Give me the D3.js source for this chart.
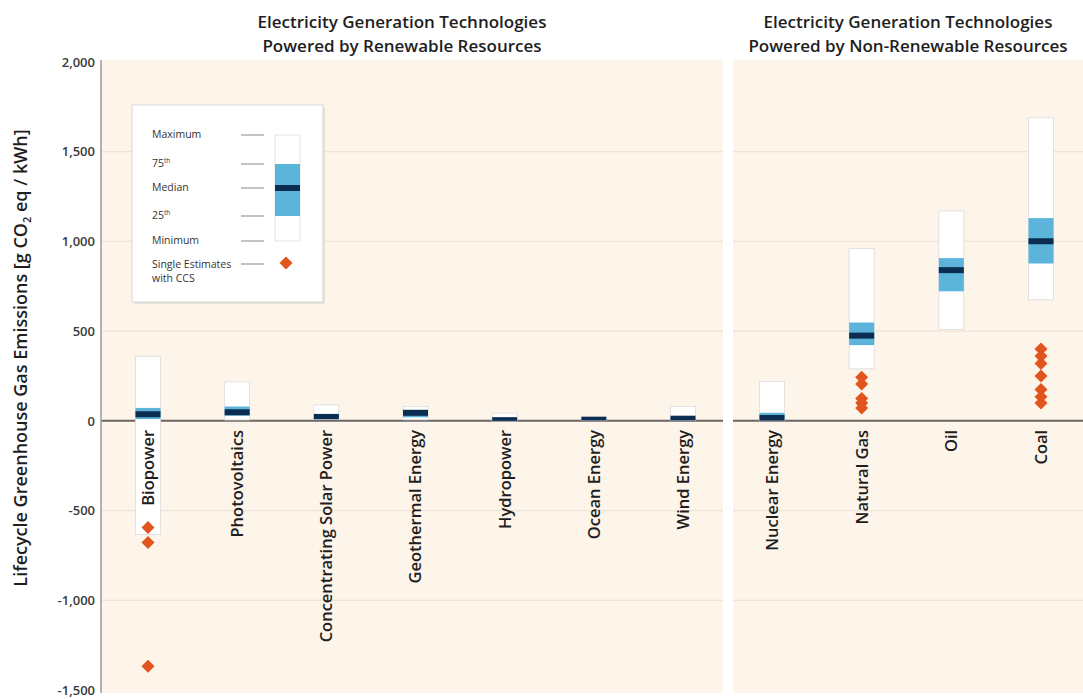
<!DOCTYPE html>
<html>
<head>
<meta charset="utf-8">
<script src="https://cdn.jsdelivr.net/npm/d3@7"></script>
<style>
  html, body { margin: 0; padding: 0; background: #ffffff; }
  svg { display: block; }
  text { font-family: "Open Sans", "Noto Sans", sans-serif; }
</style>
</head>
<body>
<svg id="chart" width="1083" height="699"></svg>
<script>
// ---------- DATA ----------
const renewableCategories = ["Biopower", "Photovoltaics", "Concentrating Solar Power", "Geothermal Energy", "Hydropower", "Ocean Energy", "Wind Energy"];
const nonRenewableCategories = ["Nuclear Energy", "Natural Gas", "Oil", "Coal"];

// order: renewable categories then non-renewable categories
const minimumValues = [-633, 5, 9, 6, 0, 2, 2, 1, 290, 510, 675];
const p25Values     = [10, 29, 14, 20, 3, 6, 8, 8, 422, 722, 877];
const medianValues  = [37, 48, 22, 45, 4, 8, 12, 16, 475, 840, 1001];
const p75Values     = [72, 80, 32, 57, 7, 9, 20, 45, 548, 907, 1130];
const maximumValues = [360, 217, 89, 79, 43, 23, 81, 220, 960, 1170, 1689];

// single estimates with CCS
const ccsBiopower   = [-594, -678, -1368];
const ccsNaturalGas = [243, 205, 125, 100, 72];
const ccsCoal       = [400, 362, 320, 250, 175, 135, 100];

const yTickValues = [-1500, -1000, -500, 0, 500, 1000, 1500, 2000];
const gridValues  = [-1000, -500, 500, 1000, 1500];

const titleRenewable = ["Electricity Generation Technologies", "Powered by Renewable Resources"];
const titleNonRenewable = ["Electricity Generation Technologies", "Powered by Non-Renewable Resources"];
const legendLabels = ["Maximum", "75th", "Median", "25th", "Minimum"];

// ---------- BUILD ----------
const allCategories = renewableCategories.concat(nonRenewableCategories);
const rows = allCategories.map((c, i) => ({
  cat: c,
  min: minimumValues[i], q1: p25Values[i], med: medianValues[i], q3: p75Values[i], max: maximumValues[i]
}));
const ccs = []
  .concat(ccsBiopower.map(v => ({cat: "Biopower", v})))
  .concat(ccsNaturalGas.map(v => ({cat: "Natural Gas", v})))
  .concat(ccsCoal.map(v => ({cat: "Coal", v})));

const svg = d3.select("#chart");

const leftPanel = {x0: 101, x1: 723};
const rightPanel = {x0: 733, x1: 1083};

const y = d3.scaleLinear().domain([-1500, 2000]).range([690, 62]);
const xR = d3.scalePoint().domain(renewableCategories).range([148, 683]);
const xN = d3.scalePoint().domain(nonRenewableCategories).range([772, 1041]);
const xOf = c => renewableCategories.includes(c) ? xR(c) : xN(c);

const panelTop = y(2000) - 2;
const panelBottom = y(-1500) + 3;

const COLORS = {
  bg: "#fdf4ea",
  grid: "#efe4d6",
  zero: "#6b6663",
  box: "#ffffff",
  boxStroke: "#dcdcdc",
  iqr: "#5cb4da",
  median: "#0c2d52",
  ccs: "#e2541d",
  text: "#1e1e1e"
};

// panels
[leftPanel, rightPanel].forEach(p => {
  svg.append("rect")
    .attr("x", p.x0).attr("y", panelTop)
    .attr("width", p.x1 - p.x0).attr("height", panelBottom - panelTop)
    .attr("fill", COLORS.bg);
});

// gridlines
[leftPanel, rightPanel].forEach(p => {
  svg.append("g").selectAll("line").data(gridValues).join("line")
    .attr("x1", p.x0).attr("x2", p.x1)
    .attr("y1", d => y(d)).attr("y2", d => y(d))
    .attr("stroke", COLORS.grid).attr("stroke-width", 1.2);
});

// zero line (behind the boxes)
[leftPanel, rightPanel].forEach(p => {
  svg.append("line")
    .attr("x1", p.x0).attr("x2", p.x1)
    .attr("y1", y(0)).attr("y2", y(0))
    .attr("stroke", COLORS.zero).attr("stroke-width", 2);
});

// left axis line
svg.append("line")
  .attr("x1", leftPanel.x0).attr("x2", leftPanel.x0)
  .attr("y1", panelTop).attr("y2", panelBottom)
  .attr("stroke", "#9a9a9a").attr("stroke-width", 1.5);

// y axis labels
const loc = d3.formatLocale({decimal: ".", thousands: ",", grouping: [3], currency: ["", ""], minus: "-"});
const fmt = loc.format(",");
const yAxis = d3.axisLeft(y).tickValues(yTickValues).tickSize(0).tickPadding(6).tickFormat(fmt);
const gy = svg.append("g").attr("transform", `translate(${leftPanel.x0},0)`).call(yAxis);
gy.select(".domain").remove();
gy.selectAll("text")
  .attr("font-size", 13).attr("font-weight", 600).attr("fill", "#3a3a3a")
  .attr("font-family", "'Open Sans', sans-serif");

// y axis title
const yt = svg.append("text")
  .attr("transform", `translate(27,${358}) rotate(-90)`)
  .attr("text-anchor", "middle")
  .attr("font-size", 18).attr("font-weight", 600).attr("fill", COLORS.text);
yt.append("tspan").text("Lifecycle Greenhouse Gas Emissions [g CO");
yt.append("tspan").attr("font-size", 11).attr("dy", 4).text("2");
yt.append("tspan").attr("dy", -4).text(" eq / kWh]");

// boxes (white range)
const BW = 25;
const boxes = svg.append("g");
boxes.selectAll("rect.range").data(rows).join("rect")
  .attr("class", "range")
  .attr("x", d => xOf(d.cat) - BW / 2).attr("width", BW)
  .attr("y", d => y(d.max)).attr("height", d => y(d.min) - y(d.max))
  .attr("fill", COLORS.box).attr("stroke", COLORS.boxStroke).attr("stroke-width", 0.8);

// IQR
boxes.selectAll("rect.iqr").data(rows).join("rect")
  .attr("class", "iqr")
  .attr("x", d => xOf(d.cat) - BW / 2).attr("width", BW)
  .attr("y", d => y(d.q3)).attr("height", d => y(d.q1) - y(d.q3))
  .attr("fill", COLORS.iqr);

// median (clipped to the min-max range)
const MH = 6;
svg.append("g").selectAll("rect").data(rows).join("rect")
  .attr("x", d => xOf(d.cat) - BW / 2).attr("width", BW)
  .attr("y", d => Math.max(y(d.med) - MH / 2, y(d.max)))
  .attr("height", d => Math.min(y(d.med) + MH / 2, y(d.min)) - Math.max(y(d.med) - MH / 2, y(d.max)))
  .attr("fill", COLORS.median);

// CCS diamonds
const diamond = (cx, cy, r) => `M${cx},${cy - r}L${cx + r},${cy}L${cx},${cy + r}L${cx - r},${cy}Z`;
svg.append("g").selectAll("path").data(ccs).join("path")
  .attr("d", d => diamond(xOf(d.cat), y(d.v), 6.5))
  .attr("fill", COLORS.ccs);

// category labels
svg.append("g").selectAll("text").data(allCategories).join("text")
  .attr("transform", d => `translate(${xOf(d)},${y(0) + 9}) rotate(-90)`)
  .attr("text-anchor", "end")
  .attr("dy", "0.36em")
  .attr("font-size", 16.5).attr("font-weight", 600).attr("fill", COLORS.text)
  .text(d => d);

// titles
function title(lines, cx) {
  svg.append("g").selectAll("text").data(lines).join("text")
    .attr("x", cx).attr("y", (d, i) => 28 + i * 24)
    .attr("text-anchor", "middle")
    .attr("font-size", 17).attr("font-weight", 600).attr("fill", COLORS.text)
    .text(d => d);
}
title(titleRenewable, 402);
title(titleNonRenewable, 908);

// legend
const L = {x: 132, y: 105, w: 191, h: 197};
const lg = svg.append("g");
lg.append("rect").attr("x", L.x + 2).attr("y", L.y + 2).attr("width", L.w).attr("height", L.h)
  .attr("fill", "#e8e2da");
lg.append("rect").attr("x", L.x).attr("y", L.y).attr("width", L.w).attr("height", L.h)
  .attr("fill", "#ffffff").attr("stroke", "#d6d6d6").attr("stroke-width", 1);

const legendY = [135, 164, 188, 216, 241];
const legBoxX = 275, legBoxW = 25;
lg.append("rect").attr("x", legBoxX).attr("y", legendY[0]).attr("width", legBoxW)
  .attr("height", legendY[4] - legendY[0]).attr("fill", "#fff").attr("stroke", COLORS.boxStroke).attr("stroke-width", 0.8);
lg.append("rect").attr("x", legBoxX).attr("y", legendY[1]).attr("width", legBoxW)
  .attr("height", legendY[3] - legendY[1]).attr("fill", COLORS.iqr);
lg.append("rect").attr("x", legBoxX).attr("y", legendY[2] - 3).attr("width", legBoxW)
  .attr("height", 6).attr("fill", COLORS.median);

legendLabels.forEach((lab, i) => {
  const t = lg.append("text").attr("x", 152).attr("y", legendY[i] + 3)
    .attr("font-size", 10.5).attr("fill", "#333");
  if (lab.endsWith("th")) {
    t.append("tspan").text(lab.slice(0, -2));
    t.append("tspan").attr("font-size", 6.5).attr("dy", -4).text("th");
  } else {
    t.text(lab);
  }
  lg.append("line").attr("x1", 241).attr("x2", 264)
    .attr("y1", legendY[i]).attr("y2", legendY[i])
    .attr("stroke", "#9c9c9c").attr("stroke-width", 1.2);
});
lg.append("text").attr("x", 152).attr("y", 268).attr("font-size", 10.5).attr("fill", "#333").text("Single Estimates");
lg.append("text").attr("x", 152).attr("y", 282).attr("font-size", 10.5).attr("fill", "#333").text("with CCS");
lg.append("line").attr("x1", 241).attr("x2", 264).attr("y1", 264).attr("y2", 264)
  .attr("stroke", "#9c9c9c").attr("stroke-width", 1.2);
lg.append("path").attr("d", diamond(286, 263, 6.5)).attr("fill", COLORS.ccs);
</script>
</body>
</html>
